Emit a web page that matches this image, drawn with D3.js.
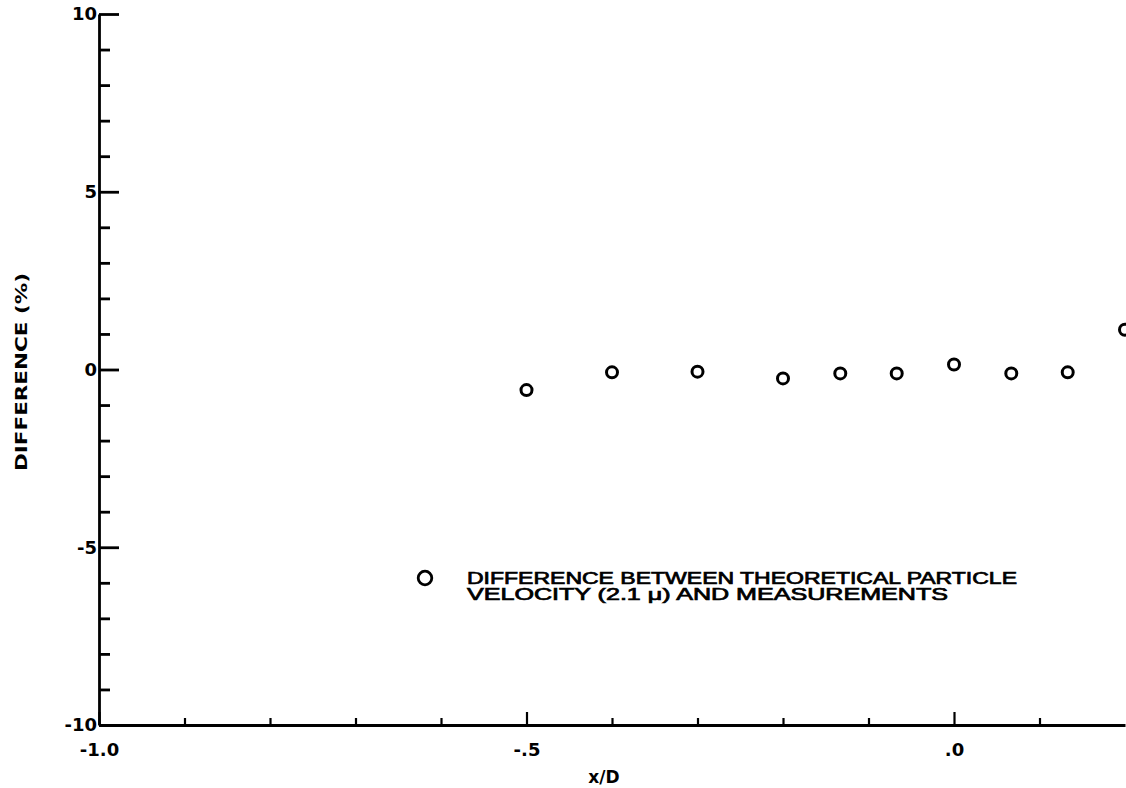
<!DOCTYPE html>
<html>
<head>
<meta charset="utf-8">
<script src="https://cdn.jsdelivr.net/npm/d3@7"></script>
<style>
  body { margin: 0; background: #fff; }
  svg { display: block; }
  .tick text { font-family: "DejaVu Sans", sans-serif; font-weight: bold; }
</style>
</head>
<body>
<svg id="chart" width="1126" height="788"></svg>
<script>
// x/D positions of the measurements
const xValues = [-0.5, -0.4, -0.3, -0.2, -0.133, -0.067, 0.0, 0.067, 0.133, 0.2]
// difference (%) between theory and measurement
const diffValues = [-0.58, -0.08, -0.06, -0.25, -0.11, -0.11, 0.14, -0.11, -0.08, 1.12]

const xMajorTicks = [-1.0, -0.5, 0.0]
const xMajorLabels = ["-1.0", "-.5", ".0"]
const xMinorTicks = [-0.9, -0.8, -0.7, -0.6, -0.4, -0.3, -0.2, -0.1, 0.1]
const yMajorTicks = [10, 5, 0, -5, -10]
const yMajorLabels = ["10", "5", "0", "-5", "-10"]
const yMinorTicks = d3.range(-9, 10).filter((v) => v % 5 !== 0)

const legendLines = [
  "DIFFERENCE BETWEEN THEORETICAL PARTICLE",
  "VELOCITY (2.1 \u03BC) AND MEASUREMENTS",
]

const svg = d3.select("#chart")
svg.append("rect").attr("width", 1126).attr("height", 788).attr("fill", "#fff")

const plot = { left: 99, right: 1125, top: 14, bottom: 725 }

const x = d3.scaleLinear().domain([-1.0, 0.2]).range([plot.left, plot.right])
const y = d3.scaleLinear().domain([-10, 10]).range([plot.bottom, plot.top])

// y axis: minor ticks then major ticks with labels
svg.append("g")
  .attr("transform", `translate(${plot.left},0)`)
  .call(d3.axisLeft(y).tickValues(yMinorTicks).tickSize(-11).tickSizeOuter(0).tickFormat(""))
  .call((g) => g.select(".domain").remove())
  .call((g) => g.selectAll("line").attr("stroke-width", 2.8))

svg.append("g")
  .attr("transform", `translate(${plot.left},0)`)
  .call(d3.axisLeft(y).tickValues(yMajorTicks).tickSize(-20).tickSizeOuter(0).tickPadding(2)
    .tickFormat((d, i) => yMajorLabels[i]))
  .call((g) => g.select(".domain").attr("stroke-width", 2.8))
  .call((g) => g.selectAll("line").attr("stroke-width", 2.8))
  .call((g) => g.selectAll("text").attr("font-size", 18).attr("fill", "#000"))

// x axis
svg.append("g")
  .attr("transform", `translate(0,${plot.bottom})`)
  .call(d3.axisBottom(x).tickValues(xMinorTicks).tickSize(-7).tickSizeOuter(0).tickFormat(""))
  .call((g) => g.select(".domain").remove())
  .call((g) => g.selectAll("line").attr("stroke-width", 2.2))

svg.append("g")
  .attr("transform", `translate(0,${plot.bottom})`)
  .call(d3.axisBottom(x).tickValues(xMajorTicks).tickSize(-13).tickSizeOuter(0).tickPadding(18)
    .tickFormat((d, i) => xMajorLabels[i]))
  .call((g) => g.select(".domain").attr("stroke-width", 2.8))
  .call((g) => g.selectAll("line").attr("stroke-width", 2.2))
  .call((g) => g.selectAll("text").attr("font-size", 18).attr("fill", "#000"))

// axis titles
svg.append("text")
  .attr("x", 604)
  .attr("y", 783)
  .attr("text-anchor", "middle")
  .attr("font-family", "DejaVu Sans, sans-serif")
  .attr("font-weight", "bold")
  .attr("font-size", 17)
  .text("x/D")

svg.append("text")
  .attr("transform", "translate(27,372) rotate(-90)")
  .attr("text-anchor", "middle")
  .attr("font-family", "DejaVu Sans, sans-serif")
  .attr("font-weight", "bold")
  .attr("font-size", 16)
  .attr("textLength", 198)
  .attr("lengthAdjust", "spacingAndGlyphs")
  .text("DIFFERENCE (%)")

// data points
svg.append("g")
  .selectAll("circle")
  .data(xValues.map((v, i) => ({ x: v, y: diffValues[i] })))
  .join("circle")
  .attr("cx", (d) => x(d.x))
  .attr("cy", (d) => y(d.y))
  .attr("r", 5.5)
  .attr("fill", "none")
  .attr("stroke", "#000")
  .attr("stroke-width", 3)

// legend
const legend = svg.append("g").attr("transform", "translate(425,578)")
legend.append("circle")
  .attr("r", 6.8)
  .attr("fill", "none")
  .attr("stroke", "#000")
  .attr("stroke-width", 2.8)

legend.selectAll("text")
  .data(legendLines)
  .join("text")
  .attr("x", 42)
  .attr("y", (d, i) => 6 + i * 16)
  .attr("font-family", "Liberation Sans, Arial, sans-serif")
  .attr("font-size", 16.5)
  .attr("stroke", "#000")
  .attr("stroke-width", 0.7)
  .attr("textLength", (d, i) => (i === 0 ? 550 : 481))
  .attr("lengthAdjust", "spacingAndGlyphs")
  .text((d) => d)
</script>
</body>
</html>
